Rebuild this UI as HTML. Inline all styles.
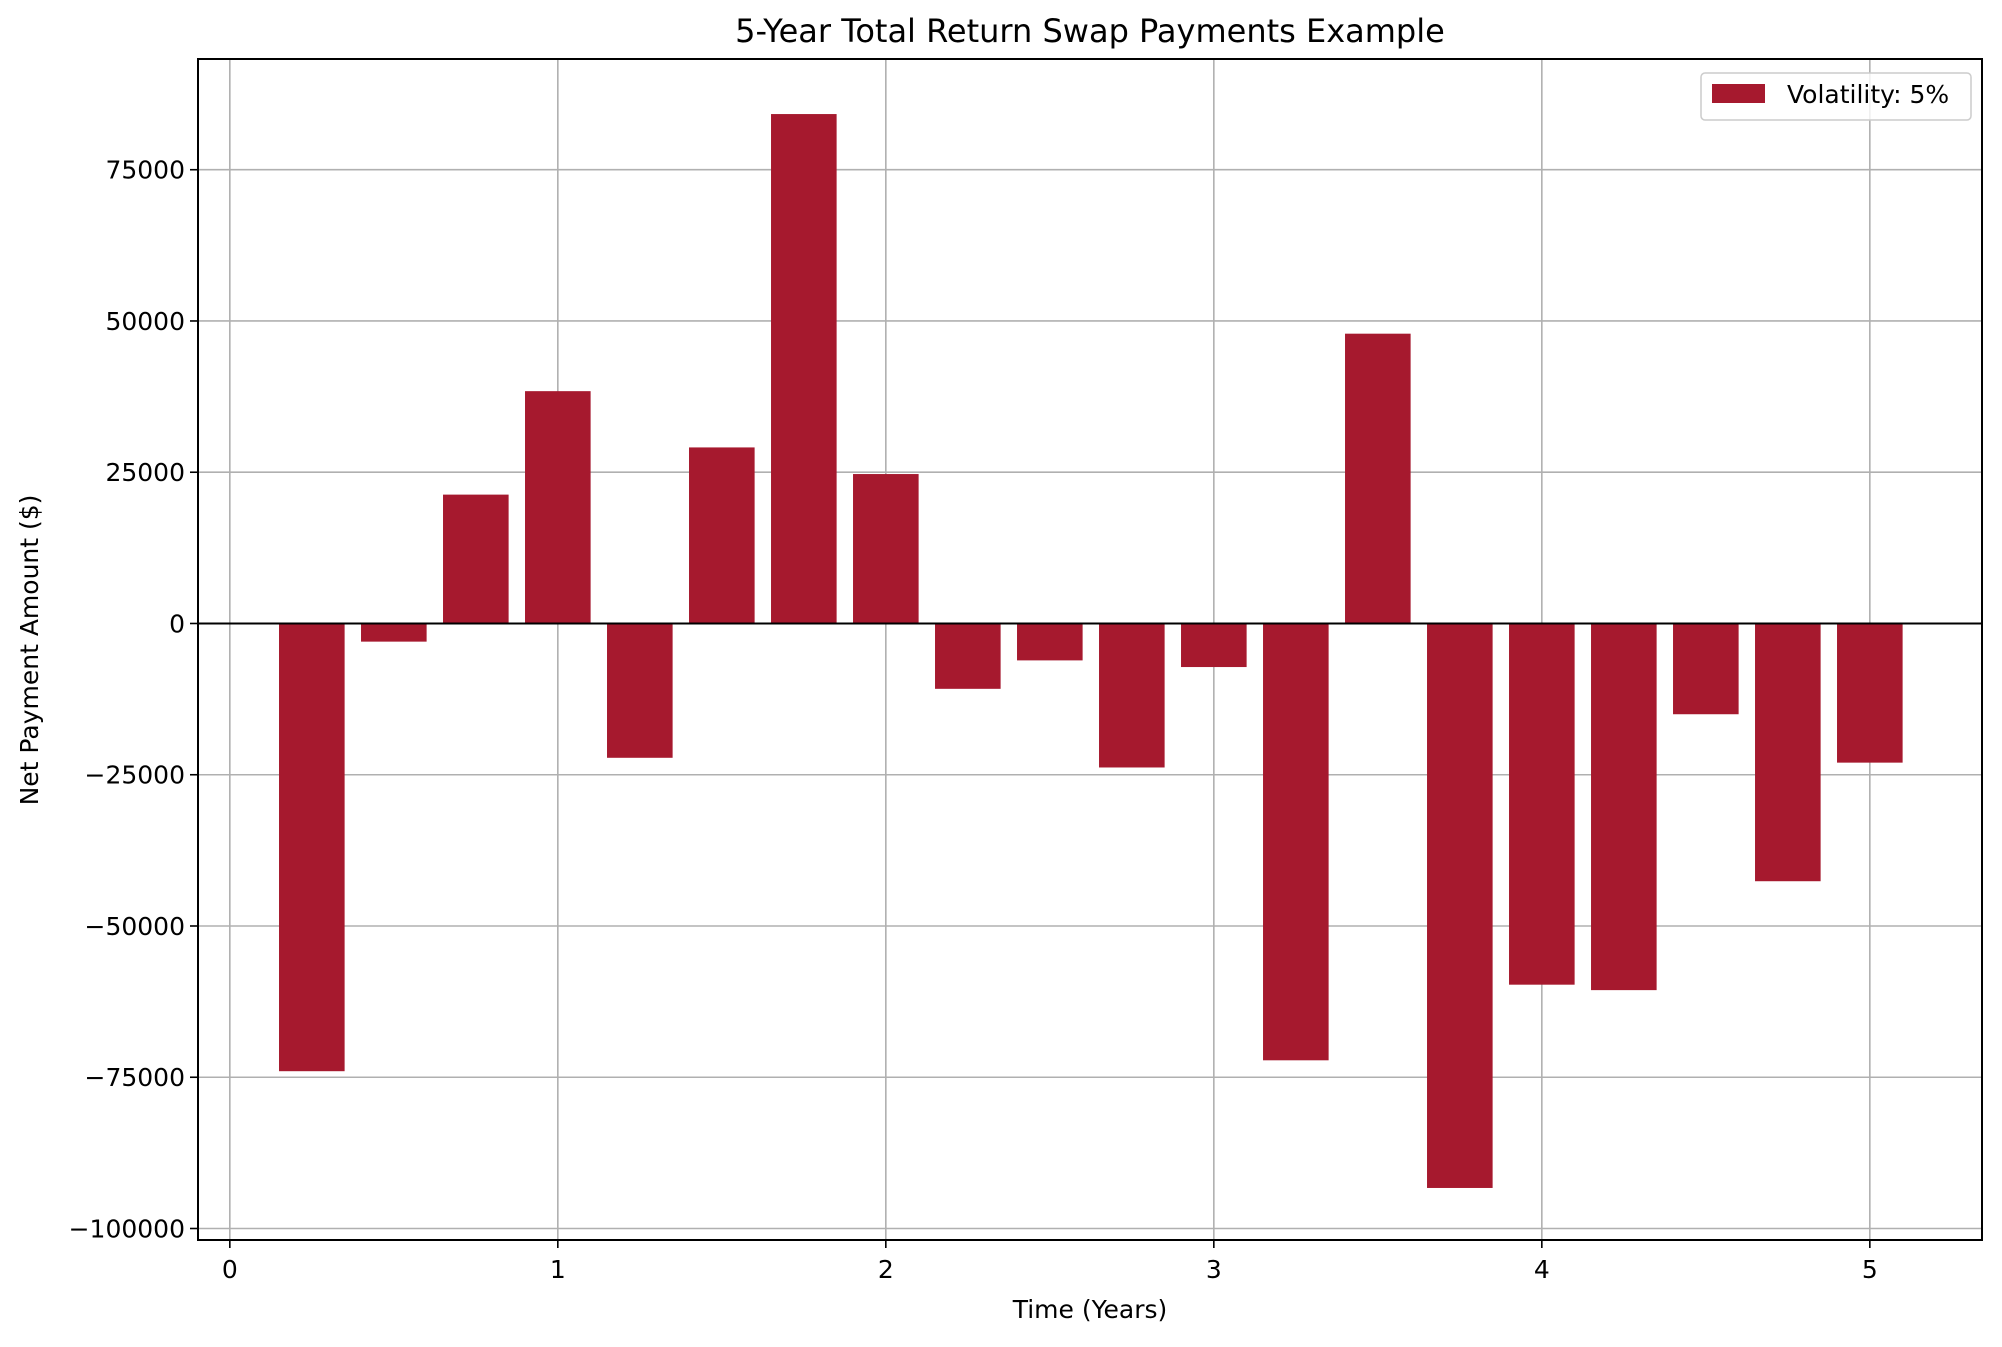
<!DOCTYPE html>
<html><head><meta charset="utf-8"><style>
html,body{margin:0;padding:0;background:#fff;}
svg text{font-family:"DejaVu Sans","Liberation Sans",sans-serif;fill:#000;}
</style></head><body>
<svg id="chart" width="2002" height="1342" xmlns="http://www.w3.org/2000/svg">
<text x="1090" y="42" font-size="32" text-anchor="middle">5-Year Total Return Swap Payments Example</text>
<g id="grid"></g>
<g id="bars"></g>
<g id="axes"></g>
<text x="1090" y="1318" font-size="25" text-anchor="middle">Time (Years)</text>
<text transform="translate(38,650) rotate(-90)" font-size="25" text-anchor="middle">Net Payment Amount ($)</text>
<g>
<rect x="1701" y="73" width="270" height="47" rx="4" fill="#fff" fill-opacity="0.8" stroke="#ccc" stroke-width="1.5"/>
<rect x="1712" y="84" width="53" height="19" fill="#A6192E"/>
<text x="1787" y="103" font-size="25">Volatility: 5%</text>
</g>
</svg>
<script>
const times = [0.25,0.5,0.75,1.0,1.25,1.5,1.75,2.0,2.25,2.5,2.75,3.0,3.25,3.5,3.75,4.0,4.25,4.5,4.75,5.0];
const payments = [-74000,-3000,21300,38400,-22200,29100,84200,24700,-10800,-6100,-23800,-7200,-72200,47900,-93300,-59700,-60600,-15000,-42600,-23000];
const xTicks = [0,1,2,3,4,5];
const yTicks = [-100000,-75000,-50000,-25000,0,25000,50000,75000];
const yTickLabels = ["\u2212100000","\u221275000","\u221250000","\u221225000","0","25000","50000","75000"];
const barWidth = 0.2;

const L=198,R=1982,T=59,B=1240;
const xMin=-0.097,xMax=5.342,yMin=-101900,yMax=93300;
const X=v=>L+(v-xMin)/(xMax-xMin)*(R-L);
const Y=v=>T+(yMax-v)/(yMax-yMin)*(B-T);
const NS="http://www.w3.org/2000/svg";
function mk(tag,attrs,parent){const e=document.createElementNS(NS,tag);for(const k in attrs)e.setAttribute(k,attrs[k]);parent.appendChild(e);return e;}
const grid=document.getElementById('grid'),bars=document.getElementById('bars'),axes=document.getElementById('axes');
xTicks.forEach(t=>{
  const g=mk('line',{x1:X(t),x2:X(t),y1:T,y2:B,stroke:'#b0b0b0','stroke-width':1.6},grid);
  
  
  const tk=mk('line',{x1:X(t),x2:X(t),y1:B,y2:B+8,stroke:'#000','stroke-width':1.6},axes);
  
  
  const tx=mk('text',{x:X(t),y:B+38,'font-size':25,'text-anchor':'middle'},axes);
  tx.textContent=t;
  
  
});
yTicks.forEach((t,i)=>{
  const g=mk('line',{x1:L,x2:R,y1:Y(t),y2:Y(t),stroke:'#b0b0b0','stroke-width':1.6},grid);
  
  
  const tk=mk('line',{x1:L-8,x2:L,y1:Y(t),y2:Y(t),stroke:'#000','stroke-width':1.6},axes);
  
  
  const tx=mk('text',{x:L-13,y:Y(t)+9,'font-size':25,'text-anchor':'end'},axes);
  tx.textContent=yTickLabels[i];
  
  
});
times.forEach((t,i)=>{
  const v=payments[i];
  const x0=X(t-barWidth/2),x1=X(t+barWidth/2);
  const y0=Y(Math.max(v,0)),y1=Y(Math.min(v,0));
  const r=mk('rect',{x:x0,y:y0,width:x1-x0,height:y1-y0,fill:'#A6192E'},bars);
  
  
});
const z=mk('line',{x1:L,x2:R,y1:Y(0),y2:Y(0),stroke:'#000','stroke-width':2},axes);


const fr=mk('rect',{x:L,y:T,width:R-L,height:B-T,fill:'none',stroke:'#000','stroke-width':2},axes);


</script>
</body></html>
